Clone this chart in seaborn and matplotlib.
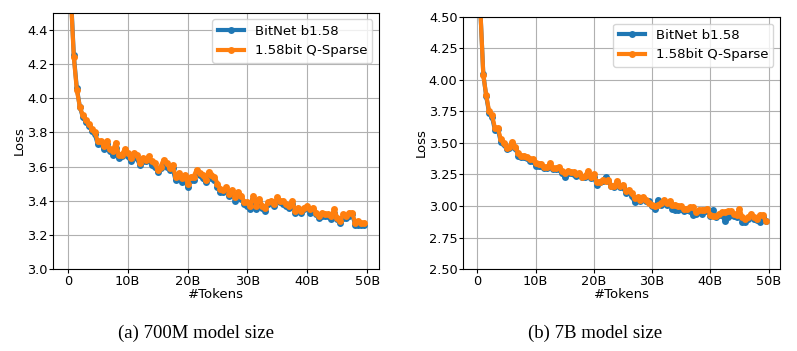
import numpy as np
import pandas as pd
import seaborn as sns
import matplotlib.pyplot as plt
import matplotlib.ticker as ticker

# 訓練 token 數 (B)
tokens = np.arange(0, 50, 0.5)

# 700M 模型
bitnet_700m = [6.50, 4.62, 4.25, 4.06, 3.95, 3.89, 3.86, 3.84, 3.81, 3.79,
               3.73, 3.74, 3.70, 3.73, 3.69, 3.67, 3.71, 3.65, 3.66, 3.68,
               3.66, 3.63, 3.66, 3.65, 3.61, 3.63, 3.63, 3.64, 3.61, 3.60,
               3.57, 3.59, 3.62, 3.60, 3.58, 3.59, 3.52, 3.54, 3.51, 3.53,
               3.48, 3.52, 3.52, 3.56, 3.55, 3.53, 3.51, 3.55, 3.53, 3.52,
               3.48, 3.45, 3.45, 3.46, 3.43, 3.44, 3.40, 3.43, 3.41, 3.38,
               3.37, 3.35, 3.41, 3.35, 3.39, 3.36, 3.34, 3.38, 3.39, 3.37,
               3.40, 3.39, 3.38, 3.37, 3.36, 3.38, 3.33, 3.35, 3.33, 3.35,
               3.36, 3.33, 3.34, 3.32, 3.30, 3.31, 3.31, 3.31, 3.29, 3.33,
               3.29, 3.27, 3.30, 3.30, 3.31, 3.32, 3.26, 3.26, 3.26, 3.26]
qsparse_700m = [6.50, 4.60, 4.24, 4.05, 3.95, 3.90, 3.87, 3.85, 3.82, 3.80,
                3.75, 3.75, 3.72, 3.75, 3.70, 3.69, 3.74, 3.67, 3.67, 3.70,
                3.68, 3.65, 3.68, 3.67, 3.62, 3.65, 3.64, 3.66, 3.63, 3.62,
                3.58, 3.60, 3.64, 3.62, 3.59, 3.61, 3.54, 3.56, 3.53, 3.55,
                3.50, 3.54, 3.54, 3.58, 3.56, 3.55, 3.52, 3.57, 3.55, 3.54,
                3.50, 3.47, 3.46, 3.48, 3.44, 3.46, 3.42, 3.45, 3.43, 3.39,
                3.39, 3.37, 3.43, 3.37, 3.41, 3.37, 3.36, 3.39, 3.40, 3.38,
                3.42, 3.40, 3.40, 3.38, 3.37, 3.40, 3.34, 3.36, 3.34, 3.36,
                3.37, 3.35, 3.36, 3.33, 3.31, 3.33, 3.32, 3.32, 3.31, 3.35,
                3.30, 3.28, 3.32, 3.31, 3.33, 3.33, 3.27, 3.28, 3.27, 3.27]

# 7B 模型
bitnet_7b = [6.50, 4.55, 4.05, 3.87, 3.74, 3.71, 3.60, 3.61, 3.51, 3.49,
             3.45, 3.46, 3.49, 3.46, 3.40, 3.39, 3.39, 3.38, 3.36, 3.36,
             3.32, 3.32, 3.32, 3.30, 3.30, 3.32, 3.29, 3.29, 3.29, 3.26,
             3.23, 3.26, 3.26, 3.25, 3.24, 3.25, 3.23, 3.23, 3.25, 3.22,
             3.23, 3.17, 3.19, 3.20, 3.23, 3.20, 3.16, 3.15, 3.18, 3.15,
             3.15, 3.10, 3.11, 3.08, 3.03, 3.05, 3.04, 3.06, 3.04, 3.04,
             3.00, 2.98, 3.05, 3.01, 3.03, 3.01, 3.02, 2.98, 2.97, 2.97,
             2.98, 2.96, 2.97, 2.96, 2.93, 2.94, 2.95, 2.94, 2.96, 2.96,
             2.92, 2.97, 2.91, 2.93, 2.93, 2.88, 2.91, 2.93, 2.92, 2.91,
             2.93, 2.87, 2.87, 2.90, 2.92, 2.90, 2.89, 2.87, 2.91, 2.88]
qsparse_7b = [6.50, 4.56, 4.04, 3.88, 3.75, 3.72, 3.62, 3.62, 3.53, 3.50,
              3.46, 3.47, 3.51, 3.47, 3.42, 3.40, 3.40, 3.39, 3.37, 3.37,
              3.34, 3.33, 3.33, 3.31, 3.31, 3.34, 3.30, 3.30, 3.31, 3.28,
              3.26, 3.28, 3.27, 3.27, 3.25, 3.26, 3.23, 3.24, 3.28, 3.23,
              3.25, 3.19, 3.19, 3.21, 3.20, 3.21, 3.16, 3.16, 3.20, 3.16,
              3.17, 3.12, 3.13, 3.10, 3.06, 3.07, 3.05, 3.07, 3.05, 3.02,
              3.01, 3.00, 3.01, 3.02, 3.05, 3.02, 3.04, 3.01, 3.01, 3.00,
              3.00, 2.98, 2.98, 2.99, 2.99, 2.95, 2.97, 2.97, 2.97, 2.98,
              2.93, 2.92, 2.92, 2.94, 2.95, 2.95, 2.96, 2.96, 2.94, 2.93,
              2.98, 2.91, 2.90, 2.91, 2.94, 2.91, 2.90, 2.93, 2.93, 2.88]

panels = [
    ('(a) 700M model size', bitnet_700m, qsparse_700m, (3.0, 4.5), [3.0, 3.2, 3.4, 3.6, 3.8, 4.0, 4.2, 4.4], '%.1f'),
    ('(b) 7B model size', bitnet_7b, qsparse_7b, (2.5, 4.5), [2.5, 2.75, 3.0, 3.25, 3.5, 3.75, 4.0, 4.25, 4.5], '%.2f'),
]

plt.rcParams["font.size"] = 9

fig = plt.figure(figsize=(7.97, 3.51), dpi=100)
axes_pos = [[0.0665, 0.2336, 0.409, 0.730], [0.581, 0.2336, 0.3977, 0.718]]
caption_x = [0.246, 0.7466]

for i, (caption, bitnet, qsparse, ylim, yticks, yfmt) in enumerate(panels):
    ax = fig.add_axes(axes_pos[i])
    df = pd.DataFrame({'tokens': tokens, 'BitNet b1.58': bitnet, '1.58bit Q-Sparse': qsparse})
    sns.lineplot(data=df, x='tokens', y='BitNet b1.58', ax=ax, color='tab:blue',
                 marker='o', markersize=5, markeredgewidth=0, linewidth=3, label='BitNet b1.58')
    sns.lineplot(data=df, x='tokens', y='1.58bit Q-Sparse', ax=ax, color='tab:orange',
                 marker='o', markersize=5, markeredgewidth=0, linewidth=3, label='1.58bit Q-Sparse')
    ax.set_ylim(*ylim)
    ax.set_yticks(yticks)
    ax.yaxis.set_major_formatter(ticker.FormatStrFormatter(yfmt))
    ax.set_xticks([0, 10, 20, 30, 40, 50])
    ax.xaxis.set_major_formatter(ticker.FuncFormatter(lambda v, p: '0' if v == 0 else '%dB' % v))
    ax.tick_params(length=3, pad=1, labelsize=9.3)
    ax.grid(True)
    ax.set_xlabel('#Tokens', labelpad=0.5, fontsize=9.5)
    ax.set_ylabel('Loss', labelpad=1, fontsize=9.5)
    ax.legend(loc='upper right', fontsize=9.5)
    fig.text(caption_x[i], 0.051, caption, ha='center', va='center',
             family='Liberation Serif', fontsize=13.5)

plt.savefig('out.png', dpi=100)
